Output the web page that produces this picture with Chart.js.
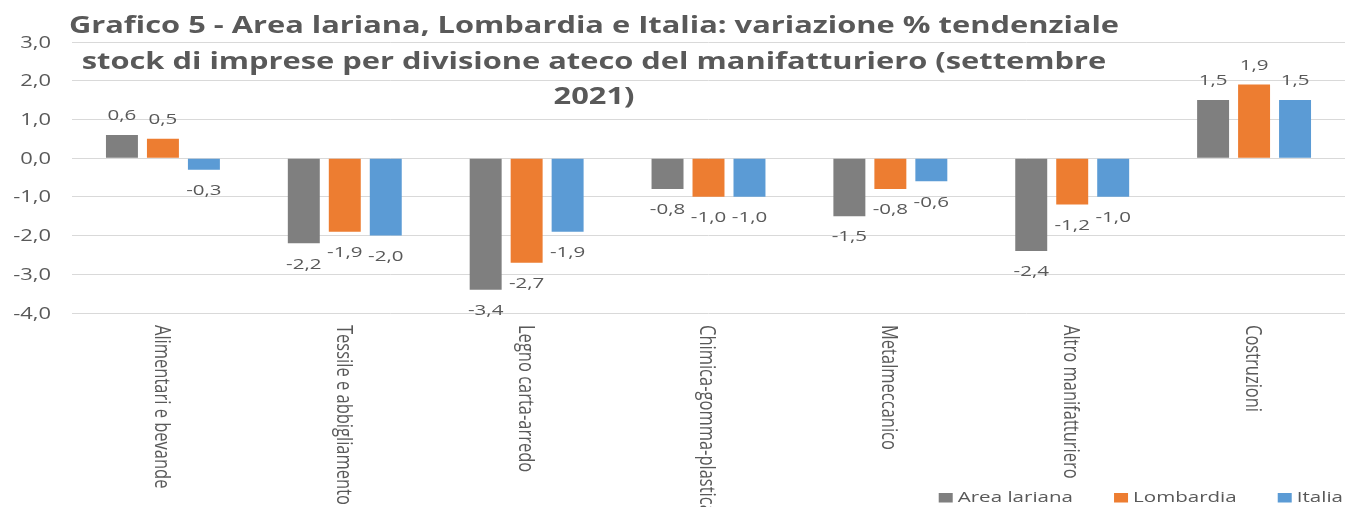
<!DOCTYPE html>
<html>
<head>
<meta charset="utf-8">
<script src="https://cdn.jsdelivr.net/npm/chart.js@4/dist/chart.umd.min.js"></script>
<style>
  html, body { margin: 0; padding: 0; background: #fff; }
  #wrap { width: 1358px; height: 507px; }
</style>
</head>
<body>
<div id="wrap"><canvas id="grafico"></canvas></div>
<script>
const categorie = [
  "Alimentari e bevande",
  "Tessile e abbigliamento",
  "Legno carta-arredo",
  "Chimica-gomma-plastica",
  "Metalmeccanico",
  "Altro manifatturiero",
  "Costruzioni"
];
const areaLariana = [0.6, -2.2, -3.4, -0.8, -1.5, -2.4, 1.5];
const lombardia = [0.5, -1.9, -2.7, -1.0, -0.8, -1.2, 1.9];
const italia = [-0.3, -2.0, -1.9, -1.0, -0.6, -1.0, 1.5];
const titolo = [
  "Grafico 5 - Area lariana, Lombardia e Italia: variazione % tendenziale",
  "stock di imprese per divisione ateco del manifatturiero (settembre",
  "2021)"
];

const grigioTesto = "#595959";
const allarga = 1.37; // il testo dell'originale e' stirato in orizzontale
const formato = (v) => v.toFixed(1).replace(".", ",");

function scritta(ctx, testo, x, y, align) {
  ctx.save();
  ctx.translate(x, y);
  ctx.scale(allarga, 1);
  ctx.textAlign = align;
  ctx.fillText(testo, 0, 0);
  ctx.restore();
}

// etichette, titolo, assi e legenda disegnati a mano
const extra = {
  id: "extra",
  afterDatasetsDraw(chart) {
    const ctx = chart.ctx;
    ctx.save();
    ctx.font = "15px 'Open Sans'";
    ctx.fillStyle = grigioTesto;
    ctx.textBaseline = "middle";
    chart.data.datasets.forEach((ds, i) => {
      const meta = chart.getDatasetMeta(i);
      meta.data.forEach((bar, j) => {
        const v = ds.data[j];
        const y = v >= 0 ? bar.y - 19 : bar.y + 21;
        scritta(ctx, formato(v), bar.x, y, "center");
      });
    });
    ctx.restore();
  },
  afterDraw(chart) {
    const ctx = chart.ctx;
    const xs = chart.scales.x;
    const ys = chart.scales.y;
    ctx.save();
    ctx.fillStyle = grigioTesto;
    ctx.textBaseline = "middle";

    // tacche asse y
    ctx.font = "16px 'Open Sans'";
    ys.ticks.forEach((t) => {
      scritta(ctx, formato(t.value), 51, ys.getPixelForValue(t.value) + 1, "right");
    });

    // etichette categorie ruotate
    ctx.font = "16.5px 'Open Sans'";
    ctx.textAlign = "left";
    categorie.forEach((c, i) => {
      const x = xs.getPixelForValue(i) - 2;
      ctx.save();
      ctx.translate(x, chart.chartArea.bottom + 12);
      ctx.rotate(Math.PI / 2);
      ctx.scale(1, 1.3);
      ctx.fillText(c, 0, 0);
      ctx.restore();
    });

    // titolo
    ctx.font = "bold 22.5px 'Open Sans'";
    titolo.forEach((riga, i) => {
      scritta(ctx, riga, 594, 27 + i * 35.5, "center");
    });

    // legenda
    ctx.font = "15px 'Open Sans'";
    const ds = chart.data.datasets;
    const larg = (t) => ctx.measureText(t).width * allarga;
    let tot = 0;
    ds.forEach((d) => { tot += 19 + larg(d.label); });
    tot += 41 * (ds.length - 1);
    let x = 1343 - tot;
    const y = 498;
    ds.forEach((d) => {
      ctx.fillStyle = d.backgroundColor;
      ctx.fillRect(x, y - 5, 14, 9.5);
      ctx.fillStyle = grigioTesto;
      scritta(ctx, d.label, x + 19, y, "left");
      x += 19 + larg(d.label) + 41;
    });
    ctx.restore();
  }
};

new Chart(document.getElementById("grafico"), {
  type: "bar",
  data: {
    labels: categorie,
    datasets: [
      { label: "Area lariana", data: areaLariana, backgroundColor: "#7f7f7f" },
      { label: "Lombardia", data: lombardia, backgroundColor: "#ed7d31" },
      { label: "Italia", data: italia, backgroundColor: "#5b9bd5" }
    ]
  },
  options: {
    responsive: true,
    maintainAspectRatio: false,
    animation: false,
    categoryPercentage: 0.676,
    barPercentage: 0.78,
    layout: { padding: { top: 42, right: 13, left: 0, bottom: 0 } },
    plugins: {
      legend: { display: false },
      title: { display: false },
      tooltip: { enabled: false }
    },
    scales: {
      x: {
        ticks: { display: false },
        grid: { display: false },
        border: { display: false },
        afterFit(scale) { scale.height = 194; }
      },
      y: {
        min: -4,
        max: 3,
        ticks: { stepSize: 1, display: false },
        grid: { color: "#d9d9d9", drawTicks: false },
        border: { display: false },
        afterFit(scale) { scale.width = 72; }
      }
    }
  },
  plugins: [extra]
});
</script>
</body>
</html>
